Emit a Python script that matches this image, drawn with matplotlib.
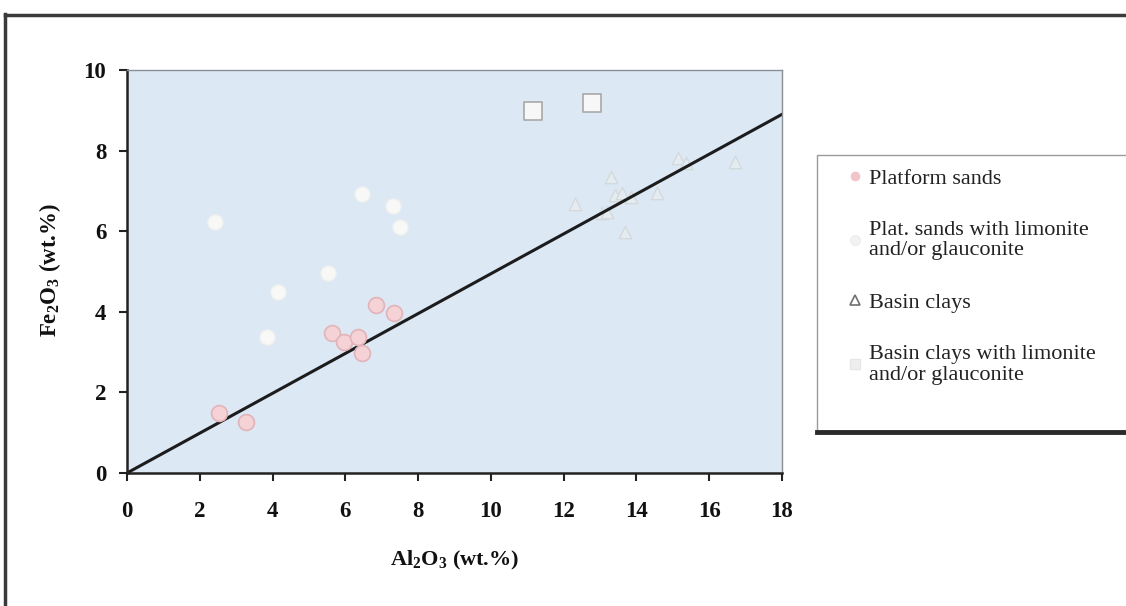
import matplotlib
matplotlib.use('Agg')
import matplotlib.pyplot as plt
from matplotlib.lines import Line2D
from matplotlib.patches import Rectangle

plt.rcParams['font.family'] = ['Liberation Serif', 'DejaVu Serif']
plt.rcParams['mathtext.default'] = 'regular'

# Platform sands
plat_x = [2.53, 3.27, 5.63, 5.96, 6.35, 6.46, 6.84, 7.34]
plat_y = [1.49, 1.27, 3.47, 3.25, 3.37, 2.98, 4.17, 3.97]

# Plat. sands with limonite and/or glauconite
plat_lim_x = [2.42, 3.85, 4.15, 5.52, 6.46, 7.31, 7.50]
plat_lim_y = [6.23, 3.38, 4.49, 4.96, 6.92, 6.63, 6.10]

# Basin clays
clay_x = [12.31, 13.05, 13.19, 13.30, 13.41, 13.60, 13.68, 13.85, 14.56, 15.14, 15.35, 16.70]
clay_y = [6.67, 6.45, 6.48, 7.35, 6.90, 6.95, 5.98, 6.85, 6.95, 7.82, 7.70, 7.72]

# Basin clays with limonite and/or glauconite
clay_lim_x = [11.15, 12.77]
clay_lim_y = [8.98, 9.18]

# reference line
line_x = [0, 18]
line_y = [0, 8.9]

W, H = 1126, 606
fig = plt.figure(figsize=(W / 100, H / 100), dpi=100)
ax = fig.add_axes([127 / W, 1 - 473 / H, (782 - 127) / W, (473 - 70) / H])
ax.set_facecolor('#dce8f4')

ax.plot(line_x, line_y, color='#1c1c1c', lw=2.2, zorder=2)

ax.scatter(plat_x, plat_y, s=130, marker='o', facecolor='#f4d2d6',
           edgecolor='#e2b3b8', linewidth=1.2, zorder=3, label='Platform sands')
ax.scatter(plat_lim_x, plat_lim_y, s=120, marker='o', facecolor='#f8f8f6',
           edgecolor='#eef0f0', linewidth=1.0, zorder=3,
           label='Plat. sands with limonite\nand/or glauconite')
ax.scatter(clay_x, clay_y, s=80, marker='^', facecolor='#e4ecf2',
           edgecolor='#d4dadc', linewidth=1.0, zorder=1, label='Basin clays')
ax.scatter(clay_lim_x, clay_lim_y, s=170, marker='s', facecolor='#f7f7f7',
           edgecolor='#a8a8a8', linewidth=1.2, zorder=3,
           label='Basin clays with limonite\nand/or glauconite')

ax.set_xlim(0, 18)
ax.set_ylim(0, 10)
ax.set_xticks(range(0, 19, 2))
ax.set_yticks(range(0, 11, 2))

for s in ['left', 'bottom']:
    ax.spines[s].set_color('#222222')
    ax.spines[s].set_linewidth(1.8)
for s in ['top', 'right']:
    ax.spines[s].set_color('#8a8f94')
    ax.spines[s].set_linewidth(1.0)

ax.tick_params(axis='both', direction='out', length=6, width=1.5,
               color='#222222', labelsize=16.5, labelcolor='#111111')
ax.tick_params(axis='x', pad=14)
ax.tick_params(axis='y', pad=9)
for lab in ax.get_xticklabels() + ax.get_yticklabels():
    lab.set_fontweight('bold')

ax.set_xlabel('Al$_2$O$_3$ (wt.%)', fontsize=16, fontweight='bold', color='#111111')
ax.set_ylabel('Fe$_2$O$_3$ (wt.%)', fontsize=16.5, fontweight='bold', color='#111111')
ax.xaxis.set_label_coords((455 - 127) / 655, (473 - 549) / 403)
ax.yaxis.set_label_coords((63 - 127) / 655, (473 - 270) / 403)

# legend box
fig.add_artist(Rectangle((817 / W, 1 - 432 / H), (W + 20 - 817) / W, (432 - 155) / H,
                         transform=fig.transFigure, facecolor='white',
                         edgecolor='#9a9a9a', linewidth=1.0, zorder=0))
fig.add_artist(Line2D([817 / W, 1], [1 - 432 / H, 1 - 432 / H], transform=fig.transFigure,
                      color='#2a2a2a', lw=3.5))

handles = [
    Line2D([], [], marker='o', ls='', markersize=6, markerfacecolor='#f0c4c8',
           markeredgecolor='#f0c4c8'),
    Line2D([], [], marker='o', ls='', markersize=7, markerfacecolor='#f2f2f2',
           markeredgecolor='#eeeeee'),
    Line2D([], [], marker='^', ls='', markersize=7, markerfacecolor='white',
           markeredgecolor='#707070', markeredgewidth=1.2),
    Line2D([], [], marker='s', ls='', markersize=7, markerfacecolor='#eeeeee',
           markeredgecolor='#e6e6e6'),
]
labels = ['Platform sands', 'Plat. sands with limonite\nand/or glauconite',
          'Basin clays', 'Basin clays with limonite\nand/or glauconite']
leg = fig.legend(handles, labels, loc='upper left', bbox_to_anchor=(836 / W, 1 - 157 / H),
                 frameon=False, prop={'family': 'Liberation Serif', 'size': 16},
                 labelspacing=1.45, handlelength=0.7, handletextpad=0.3,
                 borderpad=0, labelcolor='#222222')
for t in leg.get_texts():
    t.set_linespacing(1.1)

# outer frame of the scanned figure
fig.add_artist(Line2D([5 / W, 1], [1 - 15 / H, 1 - 15 / H], transform=fig.transFigure,
                      color='#3a3a3a', lw=2.5))
fig.add_artist(Line2D([5 / W, 5 / W], [1 - 14 / H, 0], transform=fig.transFigure,
                      color='#3a3a3a', lw=2.5))

fig.savefig('out.png', dpi=100, facecolor='white')
